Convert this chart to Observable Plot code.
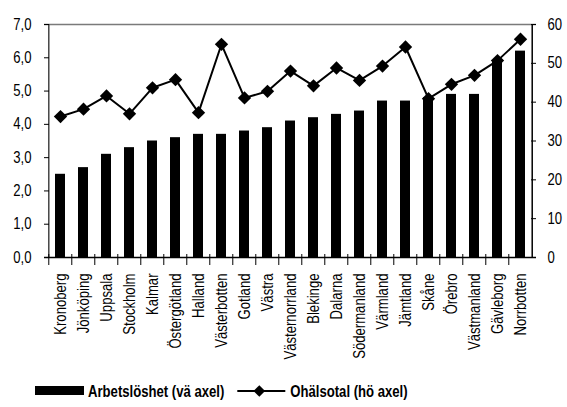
<!DOCTYPE html>
<html>
<head>
<meta charset="utf-8">
<script src="https://cdn.jsdelivr.net/npm/d3@7"></script>
<script src="https://cdn.jsdelivr.net/npm/@observablehq/plot@0.6"></script>
<style>
  body { margin: 0; background: #fff; }
  #chart svg, #legend svg { display: block; }
</style>
</head>
<body>
<div id="chart"></div>
<div id="legend"></div>
<script>
// Län, sorted by unemployment
const lan = ["Kronoberg", "Jönköping", "Uppsala", "Stockholm", "Kalmar", "Östergötland",
  "Halland", "Västerbotten", "Gotland", "Västra", "Västernorrland", "Blekinge", "Dalarna",
  "Södermanland", "Värmland", "Jämtland", "Skåne", "Örebro", "Västmanland", "Gävleborg", "Norrbotten"];
// Arbetslöshet, percent (left axis)
const arbetsloshet = [2.5, 2.7, 3.1, 3.3, 3.5, 3.6, 3.7, 3.7, 3.8, 3.9, 4.1, 4.2, 4.3, 4.4,
  4.7, 4.7, 4.8, 4.9, 4.9, 5.9, 6.2];
// Ohälsotal, days (right axis)
const ohalsotal = [36.3, 38.2, 41.6, 37.0, 43.7, 45.8, 37.3, 54.9, 41.1, 42.8, 48.0, 44.2,
  48.8, 45.6, 49.3, 54.2, 40.9, 44.6, 46.9, 50.7, 56.2];
const leftTicks = [0, 1, 2, 3, 4, 5, 6, 7];
const rightTicks = [0, 10, 20, 30, 40, 50, 60];
const leftMax = 7, rightMax = 60;
const seriesNames = ["Arbetslöshet (vä axel)", "Ohälsotal (hö axel)"];

const rows = lan.map((l, i) => ({lan: l, arb: arbetsloshet[i], ohal: ohalsotal[i]}));

const width = 567, height = 378;
const mL = 44, mR = 31, mT = 24, mB = 121;
const plotW = width - mL - mR, plotH = height - mT - mB;
const step = plotW / lan.length;
// right-axis values expressed on the left scale
const toLeft = v => v * leftMax / rightMax;
const font = `"Liberation Sans", Arial, sans-serif`;
const fontSize = 16;
const narrow = 0.82; // horizontal squeeze giving a condensed face

// squeeze every text element along its own baseline
function condense(root) {
  root.querySelectorAll("text").forEach(t => {
    const tr = t.getAttribute("transform") || "";
    t.setAttribute("transform", `${tr} scale(${narrow},1)`);
  });
}

const chart = Plot.plot({
  width, height,
  marginLeft: mL, marginRight: mR, marginTop: mT, marginBottom: mB,
  style: {fontFamily: font, fontSize: `${fontSize}px`, color: "#000", background: "#fff"},
  x: {domain: lan, paddingInner: 0.55, paddingOuter: 0.275, axis: null},
  y: {domain: [0, leftMax], axis: null},
  marks: [
    Plot.barY(rows, {x: "lan", y: "arb", fill: "#000"}),
    // frame: gray top, dark left, black bottom and right
    Plot.ruleY([leftMax], {stroke: "#7a7a7a", strokeWidth: 1.5}),
    Plot.tickX([lan[0]], {x: d => d, dx: -step / 2, stroke: "#444", strokeWidth: 1.5}),
    Plot.tickX([lan[lan.length - 1]], {x: d => d, dx: step / 2, stroke: "#000", strokeWidth: 1.5}),
    Plot.ruleY([0], {stroke: "#000", strokeWidth: 1.5}),
    // category separators crossing the baseline
    Plot.tickX(lan, {x: d => d, dx: -step / 2, insetTop: plotH - 3, insetBottom: -8, stroke: "#000"}),
    // inward ticks on both value axes
    Plot.tickY(leftTicks, {y: d => d, insetRight: plotW - 5, stroke: "#000"}),
    Plot.tickY(rightTicks, {y: d => toLeft(d), insetLeft: plotW - 5, stroke: "#000"}),
    Plot.axisY(leftTicks, {anchor: "left", label: null, tickSize: 0, tickPadding: 13, fontSize,
      tickFormat: d => d.toFixed(1).replace(".", ",")}),
    Plot.axisY(rightTicks.map(toLeft), {anchor: "right", label: null, tickSize: 0, tickPadding: 11, fontSize,
      tickFormat: d => String(Math.round(d * rightMax / leftMax))}),
    Plot.axisX({label: null, tickSize: 0, tickPadding: 16, tickRotate: -90, fontSize}),
    Plot.line(rows, {x: "lan", y: d => toLeft(d.ohal), stroke: "#000", strokeWidth: 2}),
    Plot.dot(rows, {x: "lan", y: d => toLeft(d.ohal), symbol: "diamond2", r: 6, fill: "#000"})
  ]
});
condense(chart);
document.getElementById("chart").append(chart);

// legend below the chart
const lg = d3.select("#legend").append("svg").attr("width", width).attr("height", 407 - height)
  .style("font-family", font).style("font-size", `${fontSize}px`).style("font-weight", "bold");
const cy = 13;
let cx = 35;
lg.append("rect").attr("x", cx).attr("y", cy - 5).attr("width", 49).attr("height", 9).attr("fill", "#000");
cx += 53;
const t1 = lg.append("text").attr("transform", `translate(${cx},${cy}) scale(${narrow},1)`)
  .attr("dy", "0.35em").text(seriesNames[0]);
cx += t1.node().getComputedTextLength() * narrow + 13;
lg.append("line").attr("x1", cx).attr("x2", cx + 48).attr("y1", cy).attr("y2", cy)
  .attr("stroke", "#000").attr("stroke-width", 2);
lg.append("path").attr("d", d3.symbol(d3.symbolDiamond2, 85)())
  .attr("transform", `translate(${cx + 22},${cy})`).attr("fill", "#000");
cx += 53;
lg.append("text").attr("transform", `translate(${cx},${cy}) scale(${narrow},1)`)
  .attr("dy", "0.35em").text(seriesNames[1]);
</script>
</body>
</html>
